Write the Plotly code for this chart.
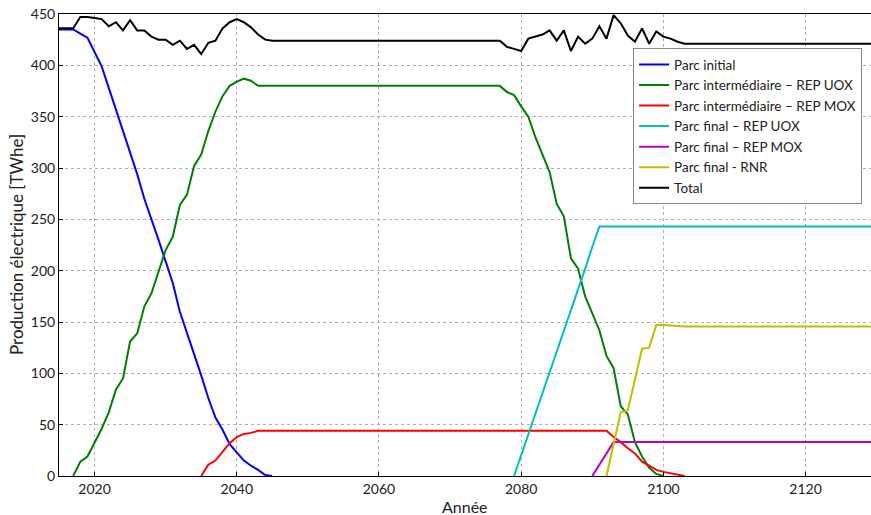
import plotly.graph_objects as go

# ---- data ----
years_initial = list(range(2015, 2046))
parc_initial = [435, 435, 435, 431, 427, 413, 399, 378, 357, 338, 315, 294, 270, 251, 230,
                209, 188, 160, 140, 118, 98, 76, 57, 45, 31, 23, 15, 10, 6, 1, 0]

years_inter_uox = list(range(2017, 2044)) + list(range(2077, 2101))
inter_uox = [0, 14, 19, 33, 46, 62, 84, 95, 131, 139, 165, 178, 200, 220, 233, 264, 274, 302,
             313, 336, 355, 370, 380, 384, 387, 385, 380,
             380, 374, 371, 360, 350, 330, 312, 296, 265, 253, 212, 202, 175, 158, 142, 117,
             105, 68, 60, 33, 19, 8, 2, 0]

years_inter_mox = list(range(2035, 2044)) + list(range(2092, 2104))
inter_mox = [0, 11, 15, 23, 32, 38, 41, 42, 44,
             44, 38, 33, 27, 22, 14, 10, 6, 4, 2.5, 1, 0]

years_final_uox = list(range(2079, 2092)) + [2130]
final_uox = [0, 20, 40, 61, 81, 101, 121, 142, 162, 182, 202, 223, 243, 243]

years_final_mox = [2090, 2091, 2092, 2093, 2130]
final_mox = [0, 11, 22, 33, 33]

years_rnr = list(range(2092, 2104)) + [2130]
final_rnr = [0, 32, 62, 64, 94, 124, 125, 147, 147, 146.5, 146, 145.5, 145.5]

years_total = list(range(2015, 2046)) + list(range(2077, 2104)) + [2130]
total = [436, 436, 436, 447, 447, 446, 445, 438, 442, 434, 444, 434, 434, 428, 425, 425, 420,
         424, 416, 420, 411, 422, 424, 436, 442, 445, 442, 437, 430, 425, 424,
         424, 418, 416, 414, 426, 428, 430, 434, 424, 434, 414, 428, 421, 426, 438, 426,
         449, 441, 429, 423, 436, 421, 433, 428, 426, 423, 421, 421]

x_ticks = [2020, 2040, 2060, 2080, 2100, 2120]
y_ticks = [0, 50, 100, 150, 200, 250, 300, 350, 400, 450]

series = [
    ("Parc initial", years_initial, parc_initial, "#0000ff"),
    ("Parc intermédiaire – REP UOX", years_inter_uox, inter_uox, "#008000"),
    ("Parc intermédiaire – REP MOX", years_inter_mox, inter_mox, "#ff0000"),
    ("Parc final – REP UOX", years_final_uox, final_uox, "#00bfbf"),
    ("Parc final – REP MOX", years_final_mox, final_mox, "#bf00bf"),
    ("Parc final - RNR", years_rnr, final_rnr, "#bfbf00"),
    ("Total", years_total, total, "#000000"),
]

fig = go.Figure()
for name, xs, ys, col in series:
    fig.add_trace(go.Scatter(x=xs, y=ys, name=name, mode="lines",
                             line=dict(color=col, width=2)))

font_family = "Lato"
grid_style = dict(showgrid=True, gridcolor="#b0b0b0", griddash="dot", gridwidth=1)
fig.update_layout(
    width=871, height=515,
    margin=dict(l=59, r=0, t=14, b=39, autoexpand=False),
    paper_bgcolor="white", plot_bgcolor="white",
    font=dict(family=font_family, size=14, color="#222222"),
    showlegend=True,
    legend=dict(x=0.707, y=0.926, xanchor="left", yanchor="top",
                bgcolor="white", bordercolor="#888888", borderwidth=1,
                font=dict(size=13.5, color="#222222"), itemwidth=30,
                tracegroupgap=0),
    xaxis=dict(range=[2015, 2129.2], tickvals=x_ticks, ticktext=[str(v) for v in x_ticks],
               showline=True, linecolor="#000000", linewidth=1, mirror=True,
               ticks="inside", ticklen=4, tickcolor="#000000", zeroline=False,
               automargin=False, tickfont=dict(size=14), **grid_style),
    yaxis=dict(range=[0, 450], tickvals=y_ticks, ticktext=[str(v) for v in y_ticks],
               showline=True, linecolor="#000000", linewidth=1, mirror=True,
               ticks="inside", ticklen=4, tickcolor="#000000", zeroline=False,
               automargin=False, tickfont=dict(size=14), **grid_style),
    annotations=[
        dict(text="Année", xref="paper", yref="paper", x=0.5, y=0, yshift=-30,
             xanchor="center", yanchor="middle", showarrow=False,
             font=dict(size=16, color="#222222")),
        dict(text="Production électrique [TWhe]", xref="paper", yref="paper",
             x=0, y=0.5, xshift=-43, xanchor="center", yanchor="middle",
             textangle=-90, showarrow=False, font=dict(size=17, color="#222222")),
    ],
)

fig.write_html("out.html", config={"displayModeBar": False},
               post_script="document.body.style.margin='0';document.body.style.padding='0';")
